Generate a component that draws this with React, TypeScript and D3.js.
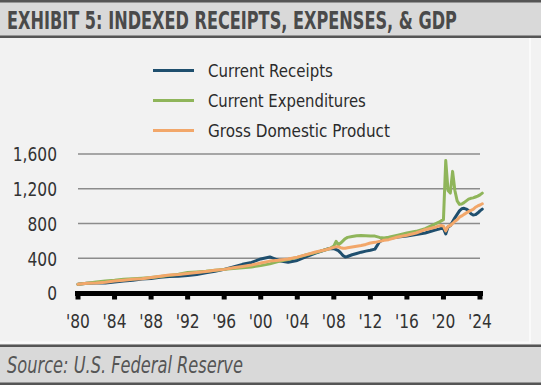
import React, { useLayoutEffect, useRef, useState } from "react";
import * as d3 from "d3";

const periods: number[] = [
  1980, 1981, 1982, 1983, 1984, 1985, 1986, 1987, 1988, 1989,
  1990, 1991, 1992, 1993, 1994, 1995, 1996, 1997, 1998, 1999,
  2000, 2001, 2002, 2003, 2004, 2005, 2006, 2007, 2007.5, 2008,
  2008.25, 2008.5, 2008.75, 2009, 2009.25, 2009.5, 2010, 2010.5, 2011, 2011.5,
  2012, 2012.5, 2013, 2013.5, 2014, 2015, 2016, 2017, 2018, 2019,
  2019.5, 2019.75, 2020, 2020.25, 2020.5, 2020.75, 2021, 2021.25, 2021.5, 2021.75,
  2022, 2022.25, 2022.5, 2022.75, 2023, 2023.25, 2023.5, 2023.75, 2024, 2024.25,
];

const currentReceipts: number[] = [
  100, 113, 114, 114, 127, 139, 146, 160, 168, 182,
  191, 192, 200, 213, 233, 250, 272, 300, 330, 352,
  392, 415, 372, 355, 375, 420, 460, 495, 512, 510,
  500, 488, 462, 432, 415, 420, 440, 455, 470, 482,
  492, 505, 590, 618, 628, 645, 655, 672, 690, 722,
  735, 745, 740, 680, 760, 775, 820, 865, 905, 945,
  970, 975, 965, 950, 912, 898, 902, 920, 945, 965,
];

const currentExpenditures: number[] = [
  100, 113, 127, 137, 146, 158, 164, 170, 178, 190,
  203, 217, 235, 242, 250, 262, 272, 283, 290, 300,
  315, 335, 365, 385, 410, 440, 465, 495, 510, 540,
  595, 555, 575, 600, 625, 640, 650, 658, 662, 660,
  656, 655, 640, 632, 642, 665, 690, 710, 740, 790,
  815, 830, 845, 1525, 1180, 1150, 1400, 1180, 1060, 1020,
  1025, 1040, 1060, 1080, 1090, 1095, 1105, 1115, 1130, 1150,
];

const grossDomesticProduct: number[] = [
  100, 112, 116, 123, 137, 148, 157, 164, 178, 192,
  206, 213, 224, 235, 247, 261, 272, 290, 306, 323,
  345, 367, 376, 391, 413, 442, 472, 494, 509, 525,
  531, 532, 521, 515, 515, 521, 529, 538, 546, 559,
  576, 583, 594, 608, 614, 644, 664, 691, 729, 753,
  772, 777, 770, 715, 766, 777, 800, 826, 844, 873,
  887, 905, 922, 937, 951, 962, 987, 1002, 1013, 1027,
];

const yTicks: number[] = [0, 400, 800, 1200, 1600];
const xTickYears: number[] = [1980, 1984, 1988, 1992, 1996, 2000, 2004, 2008, 2012, 2016, 2020, 2024];
const xTickLabels: string[] = ["'80", "'84", "'88", "'92", "'96", "'00", "'04", "'08", "'12", "'16", "'20", "'24"];

const seriesNames: string[] = ["Current Receipts", "Current Expenditures", "Gross Domestic Product"];
const seriesColors: string[] = ["#1f4f6e", "#8fb55a", "#f2a76a"];
const legendWidths: number[] = [125, 158, 182];

const W = 541;
const H = 385;
const narrow = "'DejaVu Sans Condensed', 'Liberation Sans Narrow', sans-serif";

type FitProps = {
  x: number;
  y: number;
  width?: number;
  sx?: number;
  anchor?: "start" | "middle" | "end";
  children: React.ReactNode;
  [k: string]: any;
};

function FitText({ x, y, width, sx, anchor = "start", children, ...rest }: FitProps) {
  const ref = useRef<SVGTextElement>(null);
  const [scale, setScale] = useState<number>(sx ?? 1);
  useLayoutEffect(() => {
    if (width && ref.current) {
      const len = ref.current.getComputedTextLength();
      if (len > 0) setScale(width / len);
    }
  }, [width]);
  return (
    <text
      ref={ref}
      x={0}
      y={0}
      textAnchor={anchor}
      transform={`translate(${x},${y}) scale(${scale},1)`}
      {...rest}
    >
      {children}
    </text>
  );
}

export default function App() {
  const x = d3.scaleLinear().domain([1980, 2024]).range([78, 480]);
  const y = d3.scaleLinear().domain([0, 1600]).range([293, 154]);

  const makeLine = (vals: number[]) =>
    d3
      .line<number>()
      .x((_, i) => x(periods[i]))
      .y((v) => y(v))
      .curve(d3.curveLinear)(vals) || "";

  const allSeries = [currentReceipts, currentExpenditures, grossDomesticProduct];
  const drawOrder = [0, 1, 2];

  return (
    <svg
      width={W}
      height={H}
      style={{ position: "absolute", left: 0, top: 0, display: "block" }}
    >
      <rect x={0} y={0} width={W} height={H} fill="#f2f2f2" />
      {/* Title bar */}
      <rect x={0} y={0} width={W} height={38} fill="#d9d9d9" />
      <rect x={0} y={0} width={W} height={2.5} fill="#555555" />
      <rect x={0} y={35.5} width={W} height={2.5} fill="#555555" />
      <FitText
        x={7}
        y={28.5}
        width={450}
        fontFamily={narrow}
        fontWeight="bold"
        fontSize={25}
        fill="#4a4a4a"
      >
        EXHIBIT 5: INDEXED RECEIPTS, EXPENSES, &amp; GDP
      </FitText>

      {/* panel subtle border */}
      <rect x={529} y={38} width={2} height={305} fill="#fafafa" />
      <rect x={0} y={341.5} width={531} height={2} fill="#fafafa" />

      {/* Footer */}
      <rect x={0} y={344.5} width={W} height={H - 344.5} fill="#d9d9d9" />
      <rect x={0} y={344.5} width={W} height={2.5} fill="#555555" />
      <rect x={0} y={382.5} width={W} height={2.5} fill="#555555" />
      <FitText
        x={7}
        y={373}
        width={236}
        fontFamily={narrow}
        fontStyle="italic"
        fontSize={23}
        fill="#555555"
      >
        Source: U.S. Federal Reserve
      </FitText>

      {/* Legend */}
      {seriesNames.map((name, i) => (
        <g key={name}>
          <line
            x1={153}
            x2={194}
            y1={70.5 + i * 30}
            y2={70.5 + i * 30}
            stroke={seriesColors[i]}
            strokeWidth={3}
          />
          <FitText
            x={208}
            y={77 + i * 30}
            width={legendWidths[i]}
            fontFamily={narrow}
            fontSize={18.5}
            fill="#2b2b2b"
          >
            {name}
          </FitText>
        </g>
      ))}

      {/* Gridlines */}
      {yTicks
        .filter((t) => t > 0)
        .map((t) => (
          <line
            key={t}
            x1={78}
            x2={480}
            y1={y(t)}
            y2={y(t)}
            stroke="#8c8c8c"
            strokeWidth={1.5}
          />
        ))}

      {/* Y labels */}
      {yTicks.map((t) => (
        <FitText
          key={t}
          x={57}
          y={y(t) + 7.3}
          sx={0.86}
          anchor="end"
          fontFamily={narrow}
          fontSize={20}
          fill="#333333"
        >
          {d3.format(",")(t)}
        </FitText>
      ))}

      {/* Series lines */}
      {drawOrder.map((i) => (
        <path
          key={i}
          d={makeLine(allSeries[i])}
          fill="none"
          stroke={seriesColors[i]}
          strokeWidth={3}
          strokeLinejoin="round"
          strokeLinecap="round"
        />
      ))}

      {/* X axis */}
      <rect x={75} y={291} width={408} height={5} fill="#000000" />
      {xTickYears.map((yr) => (
        <rect key={yr} x={x(yr) - 2.5} y={293} width={5} height={6.5} fill="#000000" />
      ))}
      {xTickYears.map((yr, i) => (
        <FitText
          key={yr}
          x={x(yr)}
          y={327.7}
          sx={0.86}
          anchor="middle"
          fontFamily={narrow}
          fontSize={20}
          fill="#333333"
        >
          {xTickLabels[i]}
        </FitText>
      ))}
    </svg>
  );
}
